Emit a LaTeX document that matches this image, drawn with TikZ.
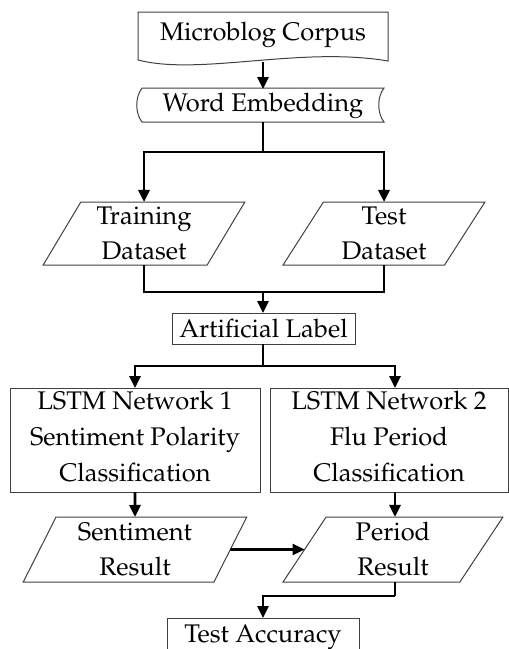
\documentclass[tikz,border=0pt]{standalone}
\usepackage[T1]{fontenc}
\usepackage{mathpazo}
\usetikzlibrary{arrows.meta,shapes.geometric}
\newcommand{\lowstrut}{\rule[-8pt]{0pt}{8pt}}
\begin{document}
\begin{tikzpicture}[x=1pt,y=-1pt,
  font=\fontsize{25.5}{35}\selectfont,
  outline/.style={draw=black!75, line width=1pt},
  plain/.style={rectangle, inner sep=0pt, outer sep=0pt, align=center},
  box/.style={plain, outline},
  para/.style={outline, trapezium, trapezium stretches=true,
    inner sep=0pt, outer sep=0pt, align=center},
  dataset/.style={para, trapezium left angle=62, trapezium right angle=118},
  result/.style={para, trapezium left angle=66, trapezium right angle=114},
  conn/.style={line width=2.8pt, line join=miter},
  arr/.style={conn, -{Triangle[length=12pt,width=11pt]}}
]
\useasboundingbox (0,0) rectangle (509,649);
\clip (0,0) rectangle (509,649);

% document shape with a wavy bottom edge
\node[plain, minimum width=250, minimum height=54] (corpus) at (263,35) {Microblog Corpus};
\draw[outline] (138,60) -- (138,12) -- (388,12) -- (388,61)
  .. controls (300,46) and (200,76) .. (138,60);

% stored-data shape: curved left and right sides
\node[plain, minimum width=242, minimum height=34] (embed) at (263,106) {Word Embedding};
\draw[outline] (142,88) -- (384,88) .. controls (377,97) and (377,113) .. (384,122)
  -- (142,122) .. controls (135,113) and (135,97) .. (142,88);

\node[dataset, minimum width=202, minimum height=63] (train) at (144,233.5) {Training\\Dataset};
\node[dataset, minimum width=202, minimum height=63] (test) at (384,233.5) {Test\\Dataset};

\node[box, minimum width=183, minimum height=31] (label) at (263.5,328.5) {Artificial Label};

\node[box, minimum width=250, minimum height=104, font=\fontsize{25.5}{36}\selectfont] (lstm1) at (135,440)
  {LSTM Network 1\\Sentiment Polarity\\Classification\lowstrut};
\node[box, minimum width=238, minimum height=104, font=\fontsize{25.5}{36}\selectfont] (lstm2) at (389,440)
  {LSTM Network 2\\Flu Period\\Classification\lowstrut};

\node[result, minimum width=224, minimum height=65] (sent) at (135,549.5) {Sentiment\\Result};
\node[result, minimum width=220, minimum height=65] (period) at (393,549.5) {Period\\Result};

\node[box, minimum width=192, minimum height=38] (acc) at (263,637) {Test Accuracy};

% junction points of the connectors
\coordinate (split1) at (263,152);
\coordinate (merge) at (263,292);
\coordinate (split2) at (263,366);
\coordinate (col2) at (395,0);
\coordinate (join) at (395,596);

\draw[arr] (corpus.south) -- (embed.north -| corpus.south);
\draw[conn] (embed.south) ++(0,-1) -- (split1);
\draw[arr] (split1) -| (train.north);
\draw[arr] (split1) -| (test.north);
\draw[conn] (train.south) |- (merge) -| (test.south);
\draw[arr] (merge) -- (label.north -| merge);
\draw[conn] (label.south -| split2) -- (split2);
\draw[arr] (split2) -| (lstm1.north);
\draw[arr] (split2) -| (col2 |- lstm2.north);
\draw[arr] (lstm1.south) -- (sent.north);
\draw[arr] (col2 |- lstm2.south) -- (col2 |- period.north);
\draw[arr] (sent.east) -- (period.west);
\draw[conn] (col2 |- period.south) -- (join);
\draw[arr] (join) -| (acc.north);
\end{tikzpicture}
\end{document}
